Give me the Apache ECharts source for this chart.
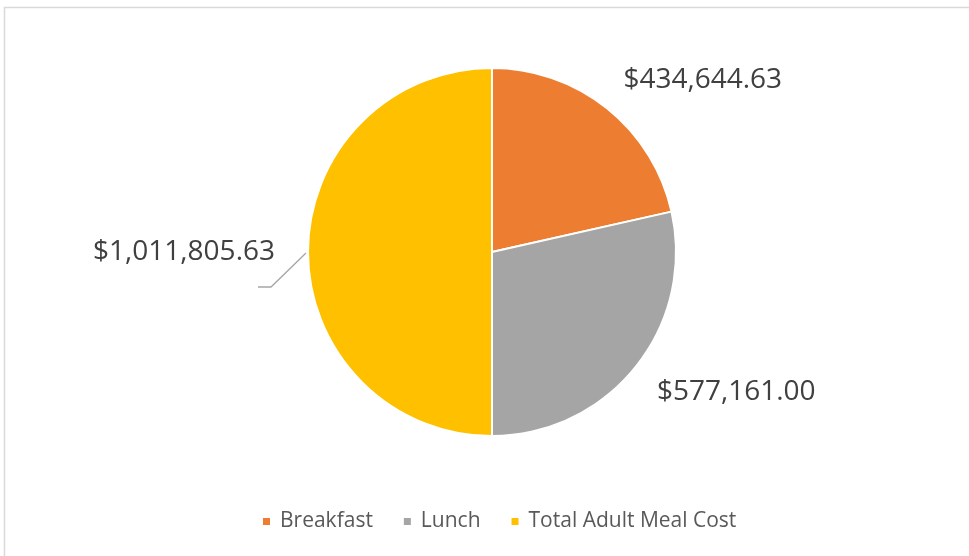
<!DOCTYPE html>
<html>
<head>
<meta charset="utf-8">
<script src="https://cdn.jsdelivr.net/npm/echarts@6/dist/echarts.min.js"></script>
<style>
html,body{margin:0;padding:0;background:#fff;}
#chart{width:969px;height:556px;}
</style>
</head>
<body>
<div id="chart"></div>
<script>
const categories = ['Breakfast', 'Lunch', 'Total Adult Meal Cost'];
const values = [434644.63, 577161.00, 1011805.63];
const colors = ['#ED7D31', '#A5A5A5', '#FFC000'];

function money(v) {
  const parts = v.toFixed(2).split('.');
  parts[0] = parts[0].replace(/\B(?=(\d{3})+(?!\d))/g, ',');
  return '$' + parts.join('.');
}

const lineOpts = [
  { length: 36, length2: -11 },
  { length: 40, length2: -15 },
  { show: true, length: 40, length2: -12 }
];

const data = categories.map((c, i) => ({
  name: c,
  value: values[i],
  itemStyle: { color: colors[i] },
  labelLine: lineOpts[i]
}));

const chart = echarts.init(document.getElementById('chart'));
chart.setOption({
  backgroundColor: '#ffffff',
  animation: false,
  graphic: [{
    type: 'rect',
    shape: { x: 4.5, y: 7.5, width: 1100, height: 700 },
    style: { fill: 'none', stroke: '#D9D9D9', lineWidth: 1.5 },
    silent: true
  }],
  legend: {
    data: categories,
    left: 256,
    top: 506,
    icon: 'rect',
    itemWidth: 9,
    itemHeight: 9,
    itemGap: 29,
    textStyle: { fontFamily: 'Open Sans', fontSize: 21, color: '#595959', padding: [0, 0, 0, 4] }
  },
  series: [{
    type: 'pie',
    center: [492, 252],
    radius: 184,
    startAngle: 90,
    clockwise: true,
    avoidLabelOverlap: false,
    itemStyle: { borderColor: '#ffffff', borderWidth: 2 },
    label: {
      show: true,
      position: 'outside',
      formatter: p => money(p.value),
      fontFamily: 'Open Sans',
      fontSize: 28,
      color: '#404040',
      distanceToLabelLine: 5
    },
    labelLine: {
      show: false,
      smooth: false,
      lineStyle: { color: '#A6A6A6', width: 1.3 }
    },
    labelLayout: function (params) {
      if (params.dataIndex === 2) {
        const r = params.rect;
        const cy = r.y + r.height / 2;
        return {
          labelLinePoints: [[r.x - 1, cy + 1], [r.x - 36, cy + 35], [r.x - 49, cy + 35]]
        };
      }
      return {};
    },
    emphasis: { disabled: true },
    data: data
  }]
});
</script>
</body>
</html>
